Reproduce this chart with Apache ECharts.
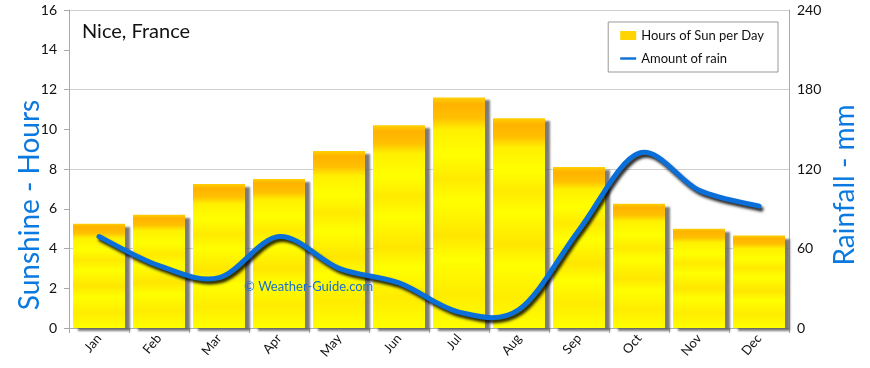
<!DOCTYPE html>
<html><head><meta charset="utf-8">
<script src="https://cdn.jsdelivr.net/npm/echarts@6/dist/echarts.min.js"></script>
<style>html,body{margin:0;padding:0;background:#fff}#c{width:870px;height:368px}</style>
</head><body><div id="c"></div>
<script>
const months = ['Jan','Feb','Mar','Apr','May','Jun','Jul','Aug','Sep','Oct','Nov','Dec'];
const sunHours = [5.25, 5.7, 7.25, 7.5, 8.9, 10.2, 11.6, 10.55, 8.1, 6.25, 5.0, 4.65];
const rainMm = [69, 47, 38, 69, 45, 34, 12, 14, 74, 132, 104, 92];
const FONT = 'Lato';
const chart = echarts.init(document.getElementById('c'));
const barFill = new echarts.graphic.LinearGradient(0,0,0,1,[
  {offset:0,color:'#FFD000'},{offset:0.03,color:'#FFB200'},{offset:0.09,color:'#FFC000'},
  {offset:0.14,color:'#FFF000'},{offset:0.25,color:'#FFFF00'},{offset:0.35,color:'#FFEA00'},
  {offset:0.45,color:'#FFFF00'},{offset:0.6,color:'#FFE600'},{offset:0.7,color:'#FFFF00'},
  {offset:0.85,color:'#FFEC00'},{offset:1,color:'#FFFF00'}]);

function rainPath(params, api) {
  if (params.dataIndex !== 0) return null;
  const pts = rainMm.map((v,i)=>api.coord([i, v]));
  const n = pts.length;
  let d = 'M' + pts[0][0] + ',' + pts[0][1];
  for (let i=0;i<n-1;i++){
    const p0 = pts[Math.max(i-1,0)], p1 = pts[i], p2 = pts[i+1], p3 = pts[Math.min(i+2,n-1)];
    const c1x = p1[0] + (p2[0]-p0[0])/6, c1y = p1[1] + (p2[1]-p0[1])/6;
    const c2x = p2[0] - (p3[0]-p1[0])/6, c2y = p2[1] - (p3[1]-p1[1])/6;
    d += ' C' + c1x + ',' + c1y + ' ' + c2x + ',' + c2y + ' ' + p2[0] + ',' + p2[1];
  }
  return {type:'path', shape:{pathData:d}, style:{fill:null, stroke:'#0A6FD8', lineWidth:5, lineCap:'round', lineJoin:'round',
    shadowColor:'rgba(0,0,0,0.85)', shadowBlur:3, shadowOffsetX:2, shadowOffsetY:3}};
}

chart.setOption({
  animation:false,
  textStyle:{fontFamily:FONT},
  grid:{left:69,right:81,top:10,bottom:40,containLabel:false},
  title:{text:'Nice, France',left:77,top:17,textStyle:{fontFamily:FONT,fontSize:20,fontWeight:'normal',color:'#111'}},
  legend:{
    orient:'vertical',right:92,top:22,backgroundColor:'#fff',borderColor:'#999',borderWidth:1,
    padding:[7,14,7,12],itemGap:10,itemWidth:16,itemHeight:9,
    textStyle:{fontFamily:FONT,fontSize:13,color:'#111'},
    data:[{name:'Hours of Sun per Day',icon:'rect',itemStyle:{color:'#FFD400'}},
          {name:'Amount of rain',icon:'path://M0,4 L20,4 L20,7 L0,7 Z',itemStyle:{color:'#0A6FD8'}}]
  },
  xAxis:{type:'category',data:months,
    axisLine:{lineStyle:{color:'#aaa'}},axisTick:{show:true,length:5,lineStyle:{color:'#aaa'}},
    axisLabel:{rotate:50,fontFamily:FONT,fontSize:13,color:'#111',margin:8}},
  yAxis:[
    {type:'value',min:0,max:16,interval:2,position:'left',
     axisLine:{show:true,lineStyle:{color:'#aaa'}},axisTick:{show:true,length:5,lineStyle:{color:'#aaa'}},
     splitLine:{show:false},axisLabel:{fontFamily:FONT,fontSize:14,color:'#111',margin:12}},
    {type:'value',min:0,max:240,interval:60,position:'right',
     axisLine:{show:true,lineStyle:{color:'#aaa'}},axisTick:{show:false},
     splitLine:{show:true,lineStyle:{color:'#d0d0d0'}},axisLabel:{fontFamily:FONT,fontSize:14,color:'#111',margin:8}}
  ],
  graphic:[
    {type:'text',x:30,y:205,rotation:Math.PI/2,style:{text:'Sunshine - Hours',fill:'#0A7AE0',font:'28px '+FONT,textAlign:'center',textVerticalAlign:'middle'}},
    {type:'text',x:845,y:185,rotation:Math.PI/2,style:{text:'Rainfall - mm',fill:'#0A7AE0',font:'28px '+FONT,textAlign:'center',textVerticalAlign:'middle'}},
    {type:'text',x:244,y:280,z:20,style:{text:'© Weather-Guide.com',fill:'#1A6FD0',font:'13px '+FONT}}
  ],
  series:[
    {name:'Hours of Sun per Day',type:'bar',yAxisIndex:0,data:sunHours,barWidth:52,
     itemStyle:{color:barFill,shadowColor:'rgba(90,90,90,0.8)',shadowBlur:2,shadowOffsetX:5,shadowOffsetY:3}},
    {name:'Amount of rain',type:'custom',coordinateSystem:'cartesian2d',yAxisIndex:1,z:5,
     itemStyle:{color:'#0A6FD8'},
     data:rainMm.map((v,i)=>[i,v]),encode:{x:0,y:1},renderItem:rainPath}
  ]
});
</script></body></html>
